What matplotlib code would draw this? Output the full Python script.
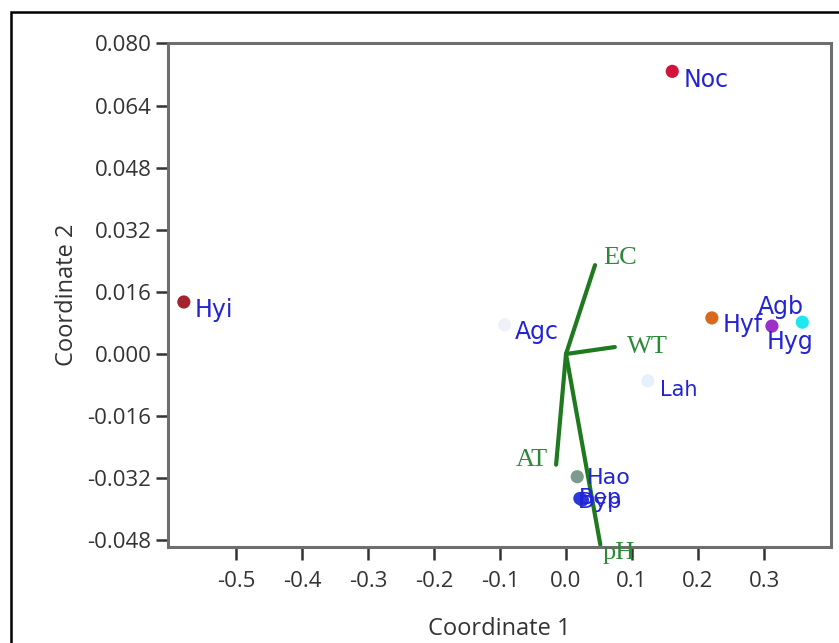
import matplotlib
matplotlib.use("Agg")
import matplotlib.pyplot as plt
from matplotlib.patches import Rectangle

# site scores (Coordinate 1, Coordinate 2)
site_names = ["Noc", "Hyi", "Hyf", "Hyg", "Agb", "Lah", "Agc", "Hao", "Bep", "Dyp"]
site_x = [0.161, -0.579, 0.221, 0.312, 0.358, 0.124, -0.093, 0.017, 0.021, 0.025]
site_y = [0.0728, 0.0134, 0.0093, 0.0072, 0.0082, -0.0069, 0.0075, -0.0316, -0.0372, -0.0376]
site_colors = ["#d2143c", "#a3232f", "#d9691e", "#9b30c8", "#1de8f0", "#e6f0fa",
               "#eef2f8", "#7d9a90", "#2a3ad8", "#2a3ad8"]

# environmental vectors
env_names = ["EC", "WT", "AT", "pH"]
env_x = [0.044, 0.074, -0.015, 0.052]
env_y = [0.0229, 0.0018, -0.0285, -0.0491]

x_ticks = [-0.5, -0.4, -0.3, -0.2, -0.1, 0.0, 0.1, 0.2, 0.3]
y_ticks = [-0.048, -0.032, -0.016, 0.000, 0.016, 0.032, 0.048, 0.064, 0.080]

fig = plt.figure(figsize=(8.39, 6.43), dpi=100)
ax = fig.add_axes([168 / 839, 1 - 547 / 643, (831 - 168) / 839, (547 - 43) / 643])

# outer frame
fig.patches.append(Rectangle((11 / 839, -0.05), 1.0, 1 - 12 / 643 + 0.05, transform=fig.transFigure,
                             fill=False, edgecolor="black", linewidth=1.8, zorder=0))

# vectors
for name, ex, ey in zip(env_names, env_x, env_y):
    ax.plot([0, ex], [0, ey], color="#1f7a1f", linewidth=3, solid_capstyle="round", zorder=2)

ax.scatter(site_x, site_y, s=90, c=site_colors, zorder=3, edgecolors="none")

label_offsets = {
    "Noc": (8, -6.5), "Hyi": (8, -6), "Hyf": (8, -5), "Hyg": (-3.5, -11.5), "Agb": (-32, 11),
    "Lah": (9, -6.5), "Agc": (7, -5), "Hao": (7, -1), "Bep": (-1, 0), "Dyp": (-3, -1.5),
}
label_sizes = {"Lah": 15, "Hao": 16, "Bep": 16, "Dyp": 16}
for name, sx, sy in zip(site_names, site_x, site_y):
    dx, dy = label_offsets[name]
    ax.annotate(name, (sx, sy), xytext=(dx, dy), textcoords="offset points",
                color="#2424d4", fontsize=label_sizes.get(name, 17), va="center", ha="left",
                family="DejaVu Sans", zorder=4)

env_offsets = {"EC": (6, 5, "left"), "WT": (8.5, 0, "left"), "AT": (-6, 3.6, "right"),
               "pH": (1.5, -6, "left")}
for name, ex, ey in zip(env_names, env_x, env_y):
    dx, dy, ha = env_offsets[name]
    ax.annotate(name, (ex, ey), xytext=(dx, dy), textcoords="offset points",
                color="#2a8a3a", fontsize=19, va="center", ha=ha,
                family="Liberation Serif", zorder=4)

ax.set_xlim(-0.603, 0.4015)
ax.set_ylim(-0.0497, 0.0801)
ax.set_xticks(x_ticks)
ax.set_xticklabels(["%.1f" % v for v in x_ticks])
ax.set_yticks(y_ticks)
ax.set_yticklabels(["%.3f" % v for v in y_ticks])

for sp in ax.spines.values():
    sp.set_color("#6e6e6e")
    sp.set_linewidth(2.2)
ax.tick_params(axis="x", length=9, width=1.8, color="#333333", labelsize=16,
               labelcolor="#333333", pad=8)
ax.tick_params(axis="y", length=9, width=1.8, color="#333333", labelsize=16,
               labelcolor="#333333", pad=3)
for lab in ax.get_xticklabels() + ax.get_yticklabels():
    lab.set_family("Open Sans")

ax.set_xlabel("Coordinate 1", fontsize=17, color="#333333", labelpad=18, family="Open Sans")
ax.set_ylabel("Coordinate 2", fontsize=17, color="#333333", labelpad=6, family="Open Sans")

fig.savefig("out.png", dpi=100)
